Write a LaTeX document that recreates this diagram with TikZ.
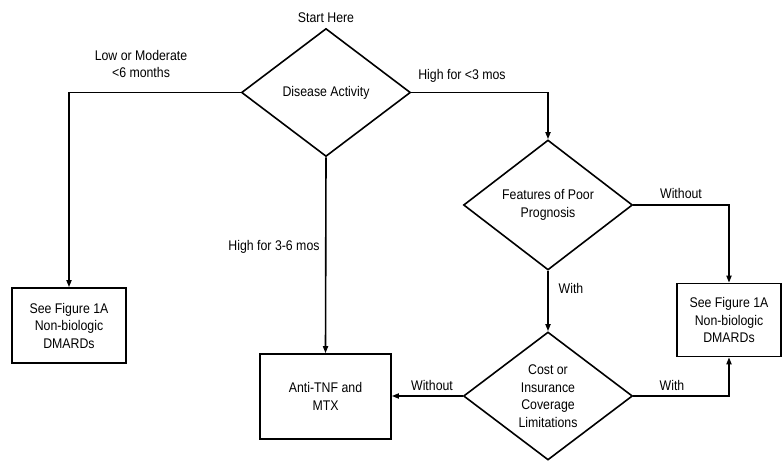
\documentclass[tikz,border=0pt]{standalone}
\usepackage{fontspec}
\setmainfont[FakeStretch=0.88]{Liberation Sans}
\usetikzlibrary{shapes.geometric,arrows.meta}
\begin{document}
\begin{tikzpicture}[x=1pt,y=-1pt,
  every node/.style={font=\fontsize{14}{17.5}\selectfont, align=center, inner sep=0pt},
  decision/.style={diamond, draw, line width=1.6pt, minimum width=169, minimum height=128},
  result/.style={rectangle, draw, line width=1.6pt},
  conn/.style={line width=1.6pt, -{Triangle[length=7pt,width=5pt]}},
  lbl/.style={}]
\useasboundingbox (0,0) rectangle (782,462);
\fill[white] (0,0) rectangle (782,462);

% decisions
\node[decision] (act) at (326,92.5) {Disease Activity};
\node[decision, minimum height=130] (prog) at (548,205) {Features of Poor\\Prognosis};
\node[decision] (cost) at (548,396) {Cost or\\Insurance\\Coverage\\Limitations};

% outcomes
\node[result, minimum width=114, minimum height=75] (dmardL) at (69,325.5) {See Figure 1A\\Non-biologic\\DMARDs};
\node[result, minimum width=131, minimum height=85] (tnf) at (325.5,396.5) {Anti-TNF and\\MTX};
\node[result, minimum width=104, minimum height=73] (dmardR) at (729,320) {See Figure 1A\\Non-biologic\\DMARDs};

% connectors
\draw[conn] (act.west) -| (dmardL.north);
\draw[conn] (act.south) -- (tnf.north);
\draw[conn] (act.east) -| (prog.north);
\draw[conn] (prog.east) -| (dmardR.north);
\draw[conn] (prog.south) -- (cost.north);
\draw[conn] (cost.west) -- (cost.west -| tnf.east);
\draw[conn] (cost.east) -| (dmardR.south);

% labels
\node[lbl] (start) at (326,18) {Start Here};
\node[lbl] (lowmod) at (141,64) {Low or Moderate\\<6 months};
\node[lbl] (hishort) at (462,76) {High for <3 mos};
\node[lbl] (himid) at (274,247) {High for 3-6 mos};
\node[lbl] (woprog) at (681,193) {Without};
\node[lbl] (wprog) at (571,288) {With};
\node[lbl] (wocost) at (432,385) {Without};
\node[lbl] (wcost) at (672,385) {With};
\end{tikzpicture}
\end{document}
